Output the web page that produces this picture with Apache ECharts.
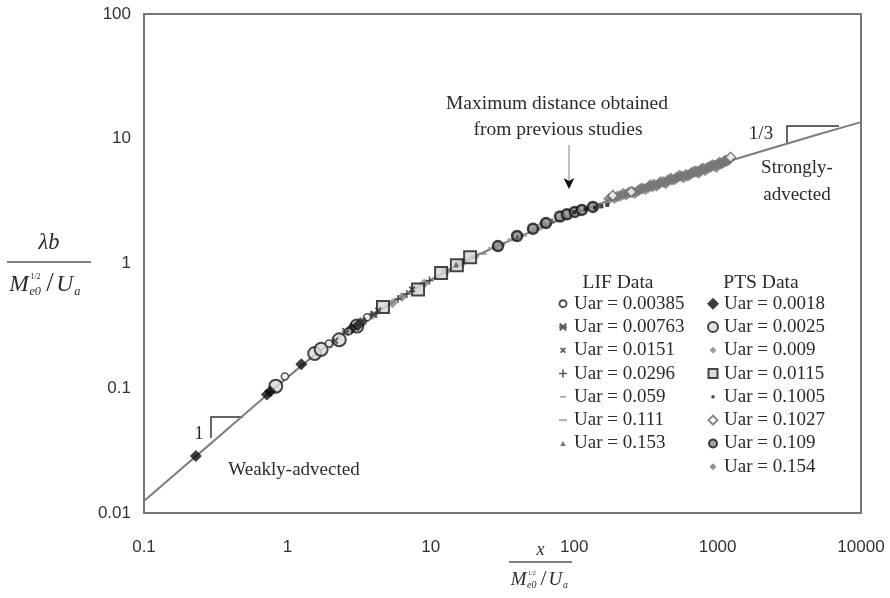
<!DOCTYPE html>
<html><head><meta charset="utf-8">
<script src="https://cdn.jsdelivr.net/npm/echarts@6/dist/echarts.min.js"></script>
<style>html,body{margin:0;padding:0;background:#fff}#c{width:890px;height:598px}</style>
</head><body><div id="c"></div><script>
// ---- data ----
const xTicks = [0.1, 1, 10, 100, 1000, 10000];
const yTicks = [0.01, 0.1, 1, 10, 100];
const curveX = [0.1, 0.3, 1, 2, 3, 5, 8, 12, 20, 30, 50, 100, 200, 500, 1000, 2000, 5000, 10000];
const curveY = [0.0125, 0.037, 0.122, 0.232, 0.315, 0.46, 0.64, 0.83, 1.13, 1.40, 1.80, 2.50, 3.40, 4.82, 6.2, 7.9, 10.8, 13.6];

const lifNames = ['Uar = 0.00385', 'Uar = 0.00763', 'Uar = 0.0151', 'Uar = 0.0296', 'Uar = 0.059', 'Uar = 0.111', 'Uar = 0.153'];
const ptsNames = ['Uar = 0.0018', 'Uar = 0.0025', 'Uar = 0.009', 'Uar = 0.0115', 'Uar = 0.1005', 'Uar = 0.1027', 'Uar = 0.109', 'Uar = 0.154'];

const lif00385 = [[0.96,0.124],[1.95,0.228],[2.65,0.285],[3.6,0.37]];
const lif00763 = [[2.55,0.285],[3.35,0.345],[4.0,0.39]];
const lif0151  = [[2.15,0.24],[4.3,0.42],[7.4,0.62]];
const lif0296  = [[5.9,0.52],[6.8,0.57],[9.8,0.73]];
const lif059   = [[17,1.05],[23,1.2],[31,1.42],[44,1.68]];
const lif111   = [[20,1.13],[27,1.32],[37,1.55],[55,1.88]];
const lif153   = [[15,0.98],[40,1.64],[70,2.22],[150,2.92]];

const pts0018 = [[0.23,0.0286],[0.72,0.089],[0.76,0.094],[1.25,0.156],[2.8,0.30],[3.1,0.32]];
const pts0025 = [[0.83,0.104],[1.55,0.19],[1.72,0.205],[2.3,0.245],[3.05,0.315]];
const pts009  = [[2.0,0.225],[3.4,0.345],[3.9,0.385],[5.4,0.48],[6.3,0.54],[9.0,0.69],[12.8,0.87],[16.5,1.01],[60,2.05]];
const pts0115 = [[4.64,0.448],[8.15,0.62],[11.8,0.84],[15.2,0.97],[18.8,1.12]];
const pts1005 = [[100,2.58],[120,2.72],[140,2.8],[155,2.88],[170,2.95]];
const pts1027 = [[186,3.5],[250,3.75],[1230,7.1]];
const pts109  = [[29.4,1.38],[40,1.66],[51.6,1.9],[63.6,2.11],[79.6,2.38],[89,2.48],[101,2.59],[113,2.69],[135,2.84]];
const pts154  = [[175,3.3],[190,3.35],[200,3.45],[210,3.5],[220,3.62],[230,3.55],[240,3.7],[255,3.75],[265,3.68],[280,3.85],
                 [290,3.98],[300,4.0],[315,3.95],[330,4.1],[340,4.25],[350,4.15],[360,4.3],[375,4.2],[390,4.35],[400,4.5],
                 [420,4.5],[435,4.4],[450,4.65],[470,4.8],[480,4.7],[500,4.72],[520,4.9],[540,5.05],[560,5.0],[580,4.92],
                 [600,5.15],[620,5.05],[640,5.2],[660,5.35],[680,5.4],[700,5.5],[720,5.45],[740,5.35],[760,5.6],[780,5.75],
                 [800,5.75],[820,5.6],[850,5.85],[880,5.95],[900,6.0],[920,6.15],[950,6.1],[980,5.95],[1000,6.25],[1030,6.45],
                 [1050,6.3],[1080,6.4],[1100,6.5],[1130,6.7],[1150,6.6],[1200,6.8]];

// ---- symbols ----
const SYM_X = 'path://M0,2L2,0L5,3L8,0L10,2L7,5L10,8L8,10L5,7L2,10L0,8L3,5Z';
const SYM_AST = 'path://M0,2L2,0L5,3L8,0L10,2L7,5L10,8L8,10L5,7L2,10L0,8L3,5Z M0,4L10,4L10,6L0,6Z';
const SYM_PLUS = 'path://M4,0L6,0L6,4L10,4L10,6L6,6L6,10L4,10L4,6L0,6L0,4L4,4Z';
const PAD = 'M0,0M12,12';
const ICON = {
  'Uar = 0.00385': 'path://' + PAD + 'M9.5,6A3.5,3.5,0,1,1,2.5,6A3.5,3.5,0,1,1,9.5,6Z',
  'Uar = 0.00763': 'path://' + PAD + 'M2,3.6L3.6,2L6,4.4L8.4,2L10,3.6L7.6,6L10,8.4L8.4,10L6,7.6L3.6,10L2,8.4L4.4,6Z M2,5.2L10,5.2L10,6.8L2,6.8Z',
  'Uar = 0.0151':  'path://' + PAD + 'M3,4.2L4.2,3L6,4.8L7.8,3L9,4.2L7.2,6L9,7.8L7.8,9L6,7.2L4.2,9L3,7.8L4.8,6Z',
  'Uar = 0.0296':  'path://' + PAD + 'M5.2,2L6.8,2L6.8,5.2L10,5.2L10,6.8L6.8,6.8L6.8,10L5.2,10L5.2,6.8L2,6.8L2,5.2L5.2,5.2Z',
  'Uar = 0.059':   'path://' + PAD + 'M3,5.2L9,5.2L9,6.8L3,6.8Z',
  'Uar = 0.111':   'path://' + PAD + 'M2,5L10,5L10,7L2,7Z',
  'Uar = 0.153':   'path://' + PAD + 'M6,3.5L8.8,8.5L3.2,8.5Z',
  'Uar = 0.0018':  'diamond',
  'Uar = 0.0025':  'path://' + PAD + 'M11,6A5,5,0,1,1,1,6A5,5,0,1,1,11,6Z',
  'Uar = 0.009':   'path://' + PAD + 'M6,2.5L9.5,6L6,9.5L2.5,6Z',
  'Uar = 0.0115':  'path://' + PAD + 'M1.5,1.5L10.5,1.5L10.5,10.5L1.5,10.5Z',
  'Uar = 0.1005':  'path://' + PAD + 'M4.5,4.5L7.5,4.5L7.5,7.5L4.5,7.5Z',
  'Uar = 0.1027':  'path://' + PAD + 'M6,1.5L10.5,6L6,10.5L1.5,6Z',
  'Uar = 0.109':   'path://' + PAD + 'M10,6A4,4,0,1,1,2,6A4,4,0,1,1,10,6Z',
  'Uar = 0.154':   'path://' + PAD + 'M6,2.5L9.5,6L6,9.5L2.5,6Z'
};

function sc(name, data, symbol, size, style) {
  return { name, type: 'scatter', data, symbol, symbolSize: size, itemStyle: style, z: 3,
           emphasis: { disabled: true } };
}

const series = [
  { name: 'curve', type: 'line', data: curveX.map((x, i) => [x, curveY[i]]), showSymbol: false, smooth: 0.3,
    lineStyle: { color: '#7c7c7c', width: 2 }, z: 2, silent: true },
  sc(ptsNames[7], pts154, 'diamond', 12, { color: '#777' }),
  sc(ptsNames[2], pts009, 'diamond', 10, { color: '#858585' }),
  sc(lifNames[4], lif059, 'rect', [8, 2.5], { color: '#8a8a8a' }),
  sc(lifNames[5], lif111, 'rect', [10, 3], { color: '#9a9a9a' }),
  sc(ptsNames[3], pts0115, 'rect', 12, { color: '#d4d4d4', borderColor: '#1a1a1a', borderWidth: 2 }),
  sc(ptsNames[6], pts109, 'circle', 10, { color: '#8c8c8c', borderColor: '#111', borderWidth: 2.5 }),
  sc(ptsNames[4], pts1005, 'rect', 4, { color: '#111' }),
  sc(ptsNames[5], pts1027, 'diamond', 10, { color: '#fff', borderColor: '#666', borderWidth: 1.5 }),
  sc(ptsNames[1], pts0025, 'circle', 13, { color: '#d9d9d9', borderColor: '#1a1a1a', borderWidth: 2 }),
  sc(ptsNames[0], pts0018, 'diamond', 12, { color: '#0d0d0d' }),
  sc(lifNames[0], lif00385, 'circle', 7, { color: '#fff', borderColor: '#222', borderWidth: 1.5 }),
  sc(lifNames[1], lif00763, SYM_AST, 8, { color: '#333' }),
  sc(lifNames[2], lif0151, SYM_X, 7, { color: '#333' }),
  sc(lifNames[3], lif0296, SYM_PLUS, 8, { color: '#333' }),
  sc(lifNames[6], lif153, 'triangle', 6, { color: '#555' })
];

const SERIF = '"Liberation Serif", "Times New Roman", serif';
const legendText = { fontFamily: SERIF, fontSize: 19, color: '#2a2a2a', lineHeight: 23.3 };
function legendOf(names, left) {
  return { orient: 'vertical', left, top: 292, padding: 0, itemGap: 0, itemWidth: 12, itemHeight: 12,
           selectedMode: false, textStyle: legendText,
           data: names.map(n => ({ name: n, icon: ICON[n] })) };
}

function txt(x, y, text, size, italic, align) {
  return { type: 'text', x, y, silent: true, style: { text,
    font: (italic ? 'italic ' : '') + size + 'px ' + SERIF, fill: '#2a2a2a',
    textAlign: align || 'center', textVerticalAlign: 'middle' } };
}
function frac(x0, w, numY, barY, denY, num, s) {
  const els = [];
  els.push(txt(x0 + w / 2, numY, num, 20 * s, true));
  els.push({ type: 'line', silent: true, shape: { x1: x0, y1: barY, x2: x0 + w, y2: barY }, style: { stroke: '#555', lineWidth: 1.3 } });
  const L = (dx, dy, t, size, it) => els.push(txt(x0 + dx * s, denY + dy * s, t, size * s, it, 'left'));
  L(2, 0, 'M', 21, true);
  L(21, -7, '1/2', 7, false);
  L(20, 6, 'e0', 11, true);
  L(35, -1, '/', 24, false);
  L(44, 0, 'U', 21, true);
  L(60, 6, 'a', 11, true);
  return els;
}

const graphic = [
  txt(557, 104, 'Maximum distance obtained', 19.5),
  txt(558, 130, 'from previous studies', 19.5),
  { type: 'line', silent: true, shape: { x1: 569, y1: 145, x2: 569, y2: 182 }, style: { stroke: '#aaa', lineWidth: 1.5 } },
  { type: 'polygon', silent: true, shape: { points: [[563.5, 178], [569, 181], [574.5, 178], [569, 189]] }, style: { fill: '#111' } },
  txt(797, 168, 'Strongly-', 19),
  txt(797, 195, 'advected', 19),
  txt(294, 470, 'Weakly-advected', 19),
  txt(618, 283, 'LIF Data', 19.5),
  txt(761, 283, 'PTS Data', 19.5),
  { type: 'polyline', silent: true, shape: { points: [[243, 417], [211, 417], [211, 438]] }, style: { stroke: '#333', lineWidth: 1.5, fill: null } },
  txt(199, 434, '1', 19),
  { type: 'polyline', silent: true, shape: { points: [[839, 126], [787, 126], [787, 143]] }, style: { stroke: '#333', lineWidth: 1.5, fill: null } },
  txt(761, 134, '1/3', 19)
].concat(frac(7, 84, 243, 262, 285, 'λb', 1.12)).concat(frac(509, 63, 550, 562, 580, 'x', 0.9));

const fmt = v => String(+(+v).toPrecision(6));
const LBL = { formatter: fmt, fontSize: 17, color: '#333', fontFamily: '"Liberation Sans", Arial, sans-serif' };
const option = {
  animation: false,
  backgroundColor: '#fff',
  grid: { left: 144, top: 14, width: 717, height: 499, show: true, borderColor: '#777', borderWidth: 2, backgroundColor: 'transparent' },
  xAxis: { type: 'log', logBase: 10, min: xTicks[0], max: xTicks[xTicks.length - 1],
    axisLine: { show: false }, axisTick: { show: false }, splitLine: { show: false },
    axisLabel: Object.assign({ margin: 26 }, LBL) },
  yAxis: { type: 'log', logBase: 10, min: yTicks[0], max: yTicks[yTicks.length - 1],
    axisLine: { show: false }, axisTick: { show: false }, splitLine: { show: false },
    axisLabel: Object.assign({ margin: 13 }, LBL) },
  legend: [legendOf(lifNames, 556), legendOf(ptsNames, 706)],
  graphic,
  series
};
const chart = echarts.init(document.getElementById('c'), null, { renderer: 'canvas' });
chart.setOption(option);
</script></body></html>
